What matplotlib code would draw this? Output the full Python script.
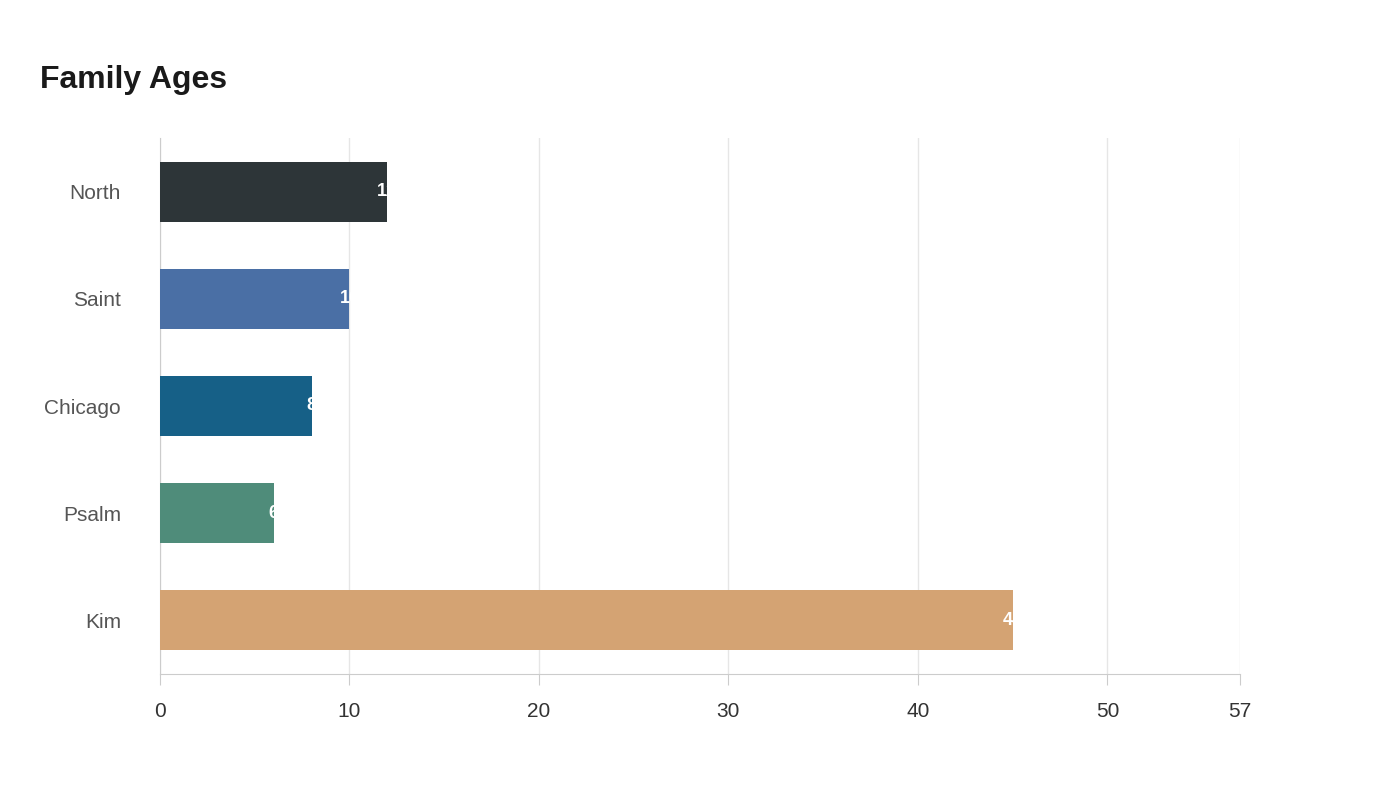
import matplotlib.pyplot as plt

plt.rcParams["font.family"] = ["Liberation Sans", "DejaVu Sans"]

names = ["North", "Saint", "Chicago", "Psalm", "Kim"]
ages = [12, 10, 8, 6, 45]
colours = ["#2d3538", "#4a6fa5", "#166087", "#4f8c7a", "#d4a373"]
xticks = [0, 10, 20, 30, 40, 50, 57]

fig = plt.figure(figsize=(14, 8), dpi=100)
ax = fig.add_axes([160 / 1400, 126 / 800, 1080 / 1400, 536 / 800])

ypos = list(range(len(names)))[::-1]
ax.barh(ypos, ages, height=0.56, color=colours, zorder=3)
for y, v in zip(ypos, ages):
    ax.text(v, y, str(v), color="white", ha="center", va="center",
            fontsize=13, fontweight="bold", zorder=4, clip_on=True)

ax.set_xlim(0, 57)
ax.set_ylim(-0.5, len(names) - 0.5)
ax.set_yticks(ypos)
ax.set_yticklabels(names, fontsize=15, color="#555555")
ax.set_xticks(xticks)
ax.set_xticklabels([str(t) for t in xticks], fontsize=15, color="#333333")
ax.tick_params(axis="y", length=0, pad=28)
ax.tick_params(axis="x", length=8, color="#cccccc", pad=12)
ax.grid(True, axis="x", color="#e6e6e6", linewidth=1, zorder=0)
for side in ["top", "right"]:
    ax.spines[side].set_visible(False)
for side in ["left", "bottom"]:
    ax.spines[side].set_color("#cccccc")

fig.text(40 / 1400, 1 - 80 / 800, "Family Ages", fontsize=23,
         fontweight="bold", color="#1a1a1a", va="center")

fig.savefig("out.png", dpi=100)
